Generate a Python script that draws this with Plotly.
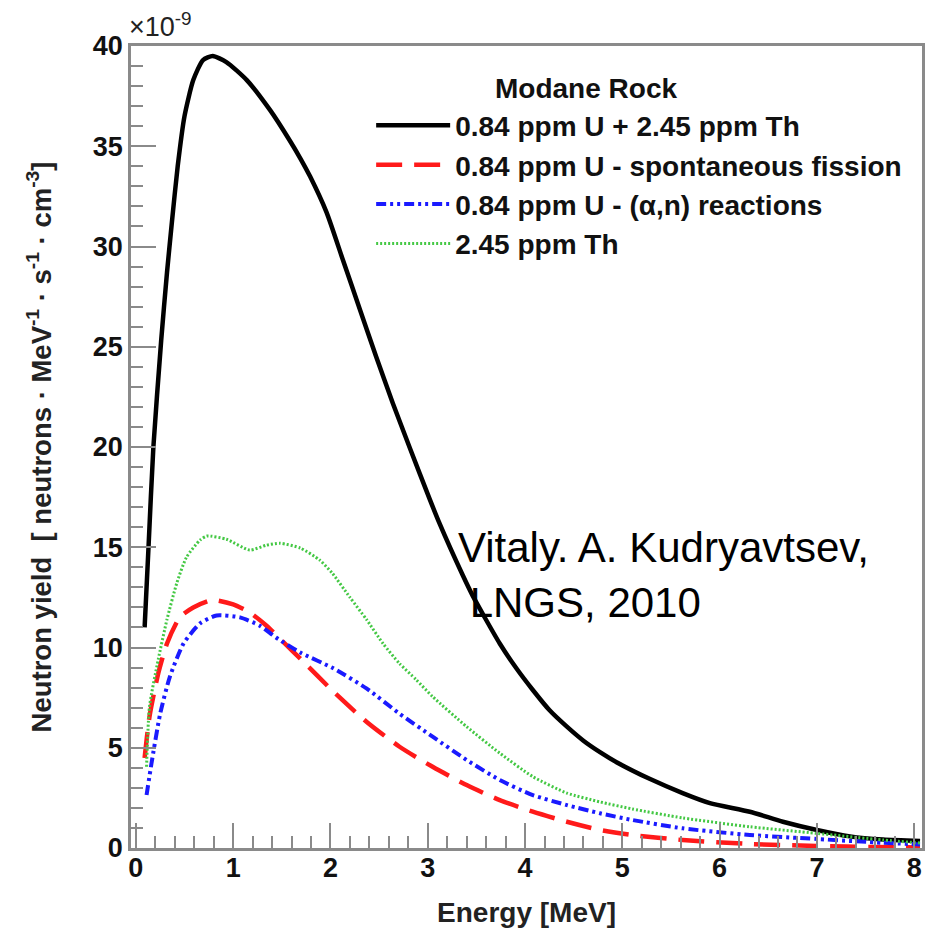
import plotly.graph_objects as go

# Energy [MeV] and neutron yield [x1e-9 neutrons / MeV / s / cm^3]
energy_total = [0.09, 0.13, 0.18, 0.26, 0.32, 0.37, 0.43, 0.50, 0.59, 0.69, 0.79, 0.93,
                1.14, 1.38, 1.58, 1.69, 1.79, 1.96, 2.13, 2.30, 2.47, 2.64, 2.82, 3.02,
                3.12, 3.36, 3.46, 3.74, 3.92, 4.08, 4.25, 4.43, 4.60, 4.77, 4.94, 5.28,
                5.62, 5.90, 6.31, 6.65, 7.00, 7.34, 7.68, 8.06]
yield_total = [11.0, 15.0, 20.0, 25.3, 28.7, 31.2, 34.0, 36.5, 38.3, 39.3, 39.5, 39.2,
               38.3, 36.8, 35.3, 34.4, 33.5, 31.7, 29.3, 26.9, 24.5, 22.2, 19.9, 17.4,
               16.2, 13.6, 12.6, 10.2, 8.9, 7.88, 6.88, 6.05, 5.35, 4.78, 4.28, 3.45,
               2.74, 2.24, 1.81, 1.31, 0.90, 0.58, 0.42, 0.35]

energy_fission = [0.09, 0.14, 0.23, 0.32, 0.45, 0.59, 0.79, 1.00, 1.17, 1.34, 1.51, 1.69,
                  2.03, 2.37, 2.71, 3.05, 3.40, 3.74, 4.08, 4.43, 4.77, 5.10, 5.62, 6.31,
                  7.00, 7.60, 8.06]
yield_fission = [4.49, 6.55, 8.7, 10.2, 11.5, 12.0, 12.37, 12.15, 11.75, 11.1, 10.3, 9.45,
                 7.8, 6.3, 5.05, 4.05, 3.14, 2.39, 1.81, 1.31, 0.90, 0.65, 0.40, 0.20,
                 0.10, 0.05, 0.03]

energy_alpha = [0.11, 0.16, 0.25, 0.35, 0.49, 0.66, 0.83, 1.07, 1.27, 1.44, 1.69, 2.03,
                2.37, 2.71, 3.05, 3.40, 3.74, 4.08, 4.43, 4.77, 5.10, 5.62, 6.31, 7.00,
                7.68, 8.06]
yield_alpha = [2.64, 4.2, 6.7, 8.55, 10.2, 11.2, 11.6, 11.5, 11.1, 10.5, 9.75, 8.96,
               7.96, 6.7, 5.55, 4.39, 3.39, 2.64, 2.14, 1.73, 1.40, 0.98, 0.65, 0.45,
               0.26, 0.18]

energy_th = [0.11, 0.14, 0.23, 0.32, 0.42, 0.52, 0.66, 0.73, 0.93, 1.17, 1.34, 1.48,
             1.69, 1.89, 2.02, 2.20, 2.37, 2.54, 2.71, 2.88, 3.05, 3.40, 3.74, 4.08,
             4.43, 4.77, 5.10, 5.62, 6.31, 7.00, 7.68, 8.06]
yield_th = [4.05, 7.05, 9.4, 11.4, 13.2, 14.5, 15.36, 15.56, 15.4, 14.86, 15.1, 15.2,
            14.96, 14.36, 13.7, 12.5, 11.4, 10.2, 9.2, 8.4, 7.55, 6.05, 4.73, 3.56,
            2.74, 2.30, 1.95, 1.50, 1.06, 0.73, 0.40, 0.25]

series_names = ["0.84 ppm U + 2.45 ppm Th",
                "0.84 ppm U - spontaneous fission",
                "0.84 ppm U - (\u03b1,n) reactions",
                "2.45 ppm Th"]

x_tick_vals = [0, 1, 2, 3, 4, 5, 6, 7, 8]
y_tick_vals = [0, 5, 10, 15, 20, 25, 30, 35, 40]

FONT = "Liberation Sans, Arial, Helvetica, sans-serif"
FRAME = "#8a8a8a"

fig = go.Figure()
fig.add_trace(go.Scatter(x=energy_total, y=yield_total, mode="lines", name=series_names[0],
                         line=dict(color="black", width=4.5, shape="spline", smoothing=0.6)))
fig.add_trace(go.Scatter(x=energy_fission, y=yield_fission, mode="lines", name=series_names[1],
                         line=dict(color="#ff1a1a", width=4.5, dash="26px,12px",
                                   shape="spline", smoothing=0.6)))
fig.add_trace(go.Scatter(x=energy_alpha, y=yield_alpha, mode="lines", name=series_names[2],
                         line=dict(color="#1a1aff", width=4, dash="10px,4px,3px,4px,3px,4px",
                                   shape="spline", smoothing=0.6)))
fig.add_trace(go.Scatter(x=energy_th, y=yield_th, mode="lines", name=series_names[3],
                         line=dict(color="#44c844", width=3, dash="2px,2px",
                                   shape="spline", smoothing=0.6)))

fig.update_layout(
    width=935, height=931,
    margin=dict(l=131, r=13, t=46, b=83),
    paper_bgcolor="white", plot_bgcolor="white",
    font=dict(family=FONT, color="black"),
    showlegend=True,
    legend=dict(
        x=0.3036, y=0.932, xanchor="left", yanchor="top",
        bgcolor="rgba(0,0,0,0)",
        font=dict(family=FONT, size=28, weight="bold", color="#111"),
        itemwidth=74, tracegroupgap=0,
    ),
    xaxis=dict(
        range=[-0.05, 8.08], tickvals=x_tick_vals, ticks="inside", ticklen=25,
        tickwidth=2, tickcolor=FRAME, showline=True, linecolor=FRAME, linewidth=2.5,
        mirror=True, showgrid=False, zeroline=False, automargin=False,
        ticklabelstandoff=-6,
        minor=dict(dtick=0.2, ticks="inside", ticklen=12, tickwidth=2, tickcolor=FRAME),
        tickfont=dict(family=FONT, size=27, weight="bold", color="#111"),
        title=dict(text="Energy [MeV]", standoff=21,
                   font=dict(family=FONT, size=28, weight="bold", color="#222")),
    ),
    yaxis=dict(
        range=[0, 40], tickvals=y_tick_vals, ticks="inside", ticklen=25,
        tickwidth=2, tickcolor=FRAME, showline=True, linecolor=FRAME, linewidth=2.5,
        mirror=True, showgrid=False, zeroline=False, automargin=False,
        minor=dict(dtick=1, ticks="inside", ticklen=12, tickwidth=2, tickcolor=FRAME),
        tickfont=dict(family=FONT, size=27, weight="bold", color="#111"),
        title=dict(text="Neutron yield  [ neutrons \u00b7 MeV<sup>-1</sup> \u00b7 s<sup>-1</sup> \u00b7 cm<sup>-3</sup>]",
                   standoff=34,
                   font=dict(family=FONT, size=27.5, weight="bold", color="#222")),
    ),
)

fig.add_annotation(xref="paper", yref="paper", x=0.0, y=1.0, xanchor="left", yanchor="bottom",
                   xshift=-4, yshift=2,
                   text="\u00d710<sup>-9</sup>", showarrow=False,
                   font=dict(family=FONT, size=27, color="#222"))

fig.add_annotation(xref="paper", yref="paper", x=0.575, y=0.9476, xanchor="center", yanchor="middle",
                   text="Modane Rock", showarrow=False,
                   font=dict(family=FONT, size=28, weight="bold", color="#111"))

fig.add_annotation(xref="paper", yref="paper", x=0.411, y=0.406, xanchor="left", yanchor="top",
                   align="left", showarrow=False,
                   text="Vitaly. A. Kudryavtsev,<br>\u00a0LNGS, 2010",
                   font=dict(family=FONT, size=42, color="black"))

fig.write_html("out.html", config={"displayModeBar": False},
               post_script="document.body.style.margin='0px';")
